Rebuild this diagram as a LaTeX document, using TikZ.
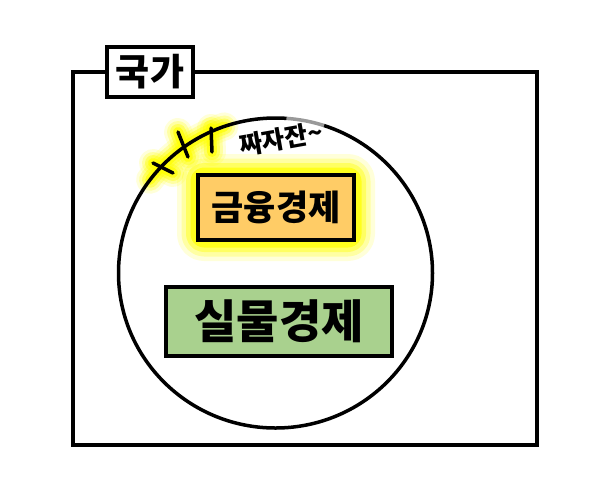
\documentclass[tikz,border=0pt]{standalone}
\usepackage{fontspec}
\setmainfont{Noto Sans CJK KR}
\usepackage{tikz}

\definecolor{finorange}{HTML}{FFCC66}
\definecolor{realgreen}{HTML}{A9D18E}
\definecolor{glowyellow}{HTML}{FFFF00}

\begin{document}
\begin{tikzpicture}
    [ font=\bfseries, x=1pt, y=-1pt,
      frame/.style={draw, line width=4pt},
      econbox/.style={draw, line width=4pt, inner sep=0pt},
      glow/.style={glowyellow, line join=round, line cap=round},
    ]
    \useasboundingbox (0, 0) rectangle (602, 499);

    % outer frame and its label
    \draw[frame] (73, 72) rectangle (537, 445);
    \node[econbox, fill=white, minimum width=86pt, minimum height=50pt,
          font=\bfseries\fontsize{37}{37}\selectfont] (nation) at (150, 72) {국가};

    % glow behind the ticks, the arc and the finance box
    \foreach \w / \o in {28/.15, 22/.25, 16/.4, 10/.7} {
        \draw[glow, line width=\w pt, opacity=\o]
            (275.5, 273) ++(143:157 and -155) arc (143:109:157 and -155);
        \draw[glow, line width=\w pt, opacity=\o] (153, 163) -- (173, 173);
        \draw[glow, line width=\w pt, opacity=\o] (178, 132) -- (188, 157);
        \draw[glow, line width=\w pt, opacity=\o] (211, 128) -- (212, 152);
        \draw[glow, line width=1.5*\w pt, opacity=\o, rounded corners=6pt]
            (198, 175) rectangle (354, 240);
    }

    \draw[line width=3.5pt] (275.5, 273) ellipse (157 and 155);
    % faded stretch of the arc behind the text
    \draw[white, line width=5pt, opacity=.6]
        (275.5, 273) ++(86:157 and -155) arc (86:72:157 and -155);

    \foreach \ax / \ay / \bx / \by in {153/163/173/173, 178/132/188/157, 211/128/212/152}
        \draw[line width=3.5pt, line cap=round] (\ax, \ay) -- (\bx, \by);

    \node[rotate=10, font=\bfseries\fontsize{25}{25}\selectfont] (tada) at (281, 139) {짜자잔\textasciitilde};

    \node[econbox, fill=finorange, minimum width=156pt, minimum height=65pt,
          font=\bfseries\fontsize{35}{35}\selectfont] (finance) at (276, 207.5) {금융경제};
    \node[econbox, fill=realgreen, minimum width=226pt, minimum height=69pt,
          font=\bfseries\fontsize{46}{46}\selectfont] (real) at (279, 321.5) {실물경제};
\end{tikzpicture}
\end{document}
